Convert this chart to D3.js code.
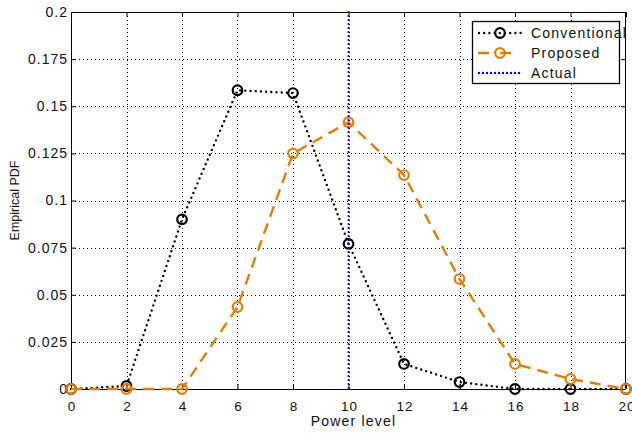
<!DOCTYPE html>
<html>
<head>
<meta charset="utf-8">
<script src="https://cdn.jsdelivr.net/npm/d3@7"></script>
<style>
  body { margin: 0; background: #fff; }
  text { font-family: "Liberation Sans", Arial, sans-serif; }
</style>
</head>
<body>
<svg id="chart" width="632" height="433"></svg>
<script>
const powerLevels = [0, 2, 4, 6, 8, 10, 12, 14, 16, 18, 20];
const conventional = [0, 0.0016, 0.090, 0.1585, 0.157, 0.077, 0.0133, 0.0037, 0, 0, 0];
const proposed = [0, 0, 0, 0.0435, 0.125, 0.1415, 0.1135, 0.0584, 0.0133, 0.0053, 0];
const actualLevel = 10;
const xTicks = [0, 2, 4, 6, 8, 10, 12, 14, 16, 18, 20];
const yTicks = [0, 0.025, 0.05, 0.075, 0.1, 0.125, 0.15, 0.175, 0.2];
const legendNames = ["Conventional", "Proposed", "Actual"];

const orange = "#de7f00";
const svg = d3.select("#chart");
const pL = 71, pR = 626, pT = 12, pB = 389;

const x = d3.scaleLinear().domain([0, 20]).range([pL, pR]);
const y = d3.scaleLinear().domain([0, 0.2]).range([pB, pT]);

// grid
const grid = svg.append("g")
  .attr("stroke", "#000")
  .attr("stroke-width", 1)
  .attr("stroke-dasharray", "1,3");
grid.selectAll(".gx").data(xTicks.slice(1, -1)).enter().append("line")
  .attr("x1", d => Math.round(x(d)) + 0.5).attr("x2", d => Math.round(x(d)) + 0.5)
  .attr("y1", pT).attr("y2", pB);
grid.selectAll(".gy").data(yTicks.slice(1, -1)).enter().append("line")
  .attr("y1", d => Math.round(y(d)) + 0.5).attr("y2", d => Math.round(y(d)) + 0.5)
  .attr("x1", pL).attr("x2", pR);

// axes, ticks inward on all four sides
const tickLen = 5;
const fmtY = d => d === 0 ? "0" : String(+d.toFixed(3));
svg.append("g").attr("class", "xax").attr("transform", `translate(0,${pB})`)
  .call(d3.axisBottom(x).tickValues(xTicks).tickSizeInner(-tickLen).tickSizeOuter(0).tickPadding(12))
  .call(g => g.select(".domain").remove());
svg.append("g").attr("transform", `translate(0,${pT})`)
  .call(d3.axisTop(x).tickValues(xTicks).tickSizeInner(-tickLen).tickSizeOuter(0).tickFormat(""))
  .call(g => g.select(".domain").remove());
svg.append("g").attr("class", "yax").attr("transform", `translate(${pL},0)`)
  .call(d3.axisLeft(y).tickValues(yTicks).tickSizeInner(-tickLen).tickSizeOuter(0).tickPadding(3).tickFormat(fmtY))
  .call(g => g.select(".domain").remove());
svg.append("g").attr("transform", `translate(${pR},0)`)
  .call(d3.axisRight(y).tickValues(yTicks).tickSizeInner(-tickLen).tickSizeOuter(0).tickFormat(""))
  .call(g => g.select(".domain").remove());

svg.selectAll(".tick line").attr("stroke", "#000");
svg.selectAll(".tick text")
  .attr("letter-spacing", 1)
  .attr("fill", "#111")
  .attr("font-family", "Liberation Sans, Arial, sans-serif");
svg.selectAll(".xax .tick text").attr("font-size", 13.5).attr("dx", 0.5);
svg.selectAll(".yax .tick text").attr("font-size", 14);

svg.append("rect")
  .attr("x", pL + 0.5).attr("y", pT + 0.5)
  .attr("width", pR - pL - 1).attr("height", pB - pT)
  .attr("fill", "none").attr("stroke", "#000").attr("stroke-width", 1);

// labels
svg.append("text")
  .attr("x", x(10) + 5).attr("y", 426)
  .attr("text-anchor", "middle")
  .attr("font-size", 14).attr("letter-spacing", 1.2).attr("fill", "#111")
  .text("Power level");
svg.append("text")
  .attr("transform", `translate(19,${(pT + pB) / 2}) rotate(-90)`)
  .attr("text-anchor", "middle")
  .attr("font-size", 12.5).attr("fill", "#111")
  .text("Empirical PDF");

// series
const line = d3.line().x((d, i) => x(powerLevels[i])).y(d => y(d));

svg.append("path").datum(conventional)
  .attr("d", line).attr("fill", "none")
  .attr("stroke", "#000").attr("stroke-width", 2.4)
  .attr("stroke-linecap", "round").attr("stroke-dasharray", "0,5.2");
svg.append("g").selectAll("circle").data(conventional).enter().append("circle")
  .attr("cx", (d, i) => x(powerLevels[i])).attr("cy", d => y(d))
  .attr("r", 4.8).attr("fill", "none").attr("stroke", "#000").attr("stroke-width", 2.2);

svg.append("path").datum(proposed)
  .attr("d", line).attr("fill", "none")
  .attr("stroke", orange).attr("stroke-width", 2.4)
  .attr("stroke-dasharray", "11,7");
svg.append("g").selectAll("circle").data(proposed).enter().append("circle")
  .attr("cx", (d, i) => x(powerLevels[i])).attr("cy", d => y(d))
  .attr("r", 4.8).attr("fill", "none").attr("stroke", orange).attr("stroke-width", 2.2);

svg.append("line")
  .attr("x1", x(actualLevel)).attr("x2", x(actualLevel))
  .attr("y1", pT).attr("y2", pB)
  .attr("stroke", "#0000ff").attr("stroke-width", 2.2)
  .attr("stroke-linecap", "round").attr("stroke-dasharray", "0,4");

// legend
const lg = svg.append("g");
lg.append("rect")
  .attr("x", 472.5).attr("y", 21.5).attr("width", 147).attr("height", 62)
  .attr("fill", "#fff").attr("stroke", "#000").attr("stroke-width", 1.3);
const legendY = [33, 53, 73];
const styles = [
  { stroke: "#000", dash: "0,5.2", cap: "round", marker: true },
  { stroke: orange, dash: "11,11,11", cap: "butt", marker: true },
  { stroke: "#0000ff", dash: "0,4", cap: "round", marker: false }
];
legendNames.forEach((name, i) => {
  const s = styles[i];
  lg.append("line")
    .attr("x1", i === 1 ? 478 : 479).attr("x2", 522)
    .attr("y1", legendY[i]).attr("y2", legendY[i])
    .attr("stroke", s.stroke).attr("stroke-width", 2.4)
    .attr("stroke-linecap", s.cap).attr("stroke-dasharray", s.dash);
  if (s.marker) {
    lg.append("circle").attr("cx", 500).attr("cy", legendY[i]).attr("r", 4.8)
      .attr("fill", "none").attr("stroke", s.stroke).attr("stroke-width", 2.2);
  }
  lg.append("text")
    .attr("x", 531).attr("y", legendY[i] + 5)
    .attr("font-size", 14).attr("letter-spacing", 1.2).attr("fill", "#111")
    .text(name);
});
</script>
</body>
</html>
